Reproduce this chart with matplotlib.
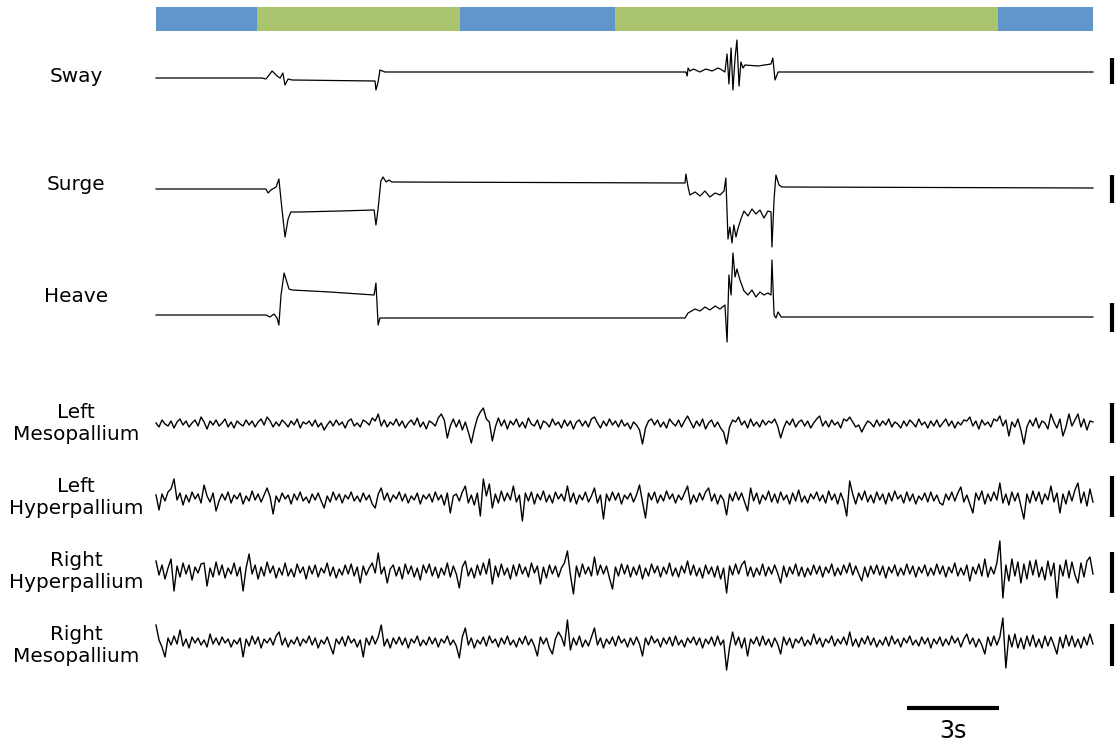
import numpy
from matplotlib import pyplot

# stimulus periods (s): blue = still, green = moving
period_edges = [0.0, 3.29, 9.90, 14.94, 27.41, 30.5]
period_colors = ['#6096c9', '#abc56e', '#6096c9', '#abc56e', '#6096c9']

# platform motion traces: breakpoints (s) and displacement (a.u.)
sway_t = [0.0, 3.45, 3.58, 3.78, 3.94, 4.04, 4.13, 4.20, 4.30, 4.43, 7.13, 7.16,
          7.23, 7.29, 7.45, 17.25, 17.29, 17.32, 17.38, 17.5, 17.7, 17.9, 18.1,
          18.3, 18.42, 18.52, 18.59, 18.65, 18.72, 18.78, 18.85, 18.91, 18.98,
          19.04, 19.11, 19.17, 19.6, 20.02, 20.08, 20.15, 20.25, 30.5]
sway_v = [0, 0, -1, 7, 2, 0, 5, -7, -1, -2, -3, -12,
          -4, 8, 6, 6, 2, 10, 7, 9, 6, 9, 7,
          10, 8, 6, 24, -6, 30, -12, 20, 38, -8,
          16, 10, 13, 12, 14, 20, -2, 6, 6]

surge_t = [0.0, 3.58, 3.65, 3.74, 3.91, 4.00, 4.10, 4.20, 4.30, 4.39, 4.69, 5.99,
           7.10, 7.16, 7.23, 7.32, 7.39, 7.49, 7.58, 7.68, 17.22, 17.25, 17.32,
           17.38, 17.55, 17.71, 17.87, 18.03, 18.20, 18.36, 18.49, 18.55, 18.62,
           18.68, 18.75, 18.81, 18.88, 18.94, 19.04, 19.14, 19.27, 19.40, 19.53,
           19.66, 19.79, 19.92, 20.02, 20.05, 20.12, 20.18, 20.28, 20.38, 30.5]
surge_v = [0, 0, -4, -1, 2, 10, -20, -48, -30, -23, -23, -22,
           -21, -36, -20, 8, 12, 7, 9, 7, 6, 15, 2,
           -6, -3, -7, -2, -8, -4, -6, -2, 11, -50,
           -38, -54, -36, -48, -40, -30, -22, -27, -20, -25,
           -21, -29, -22, -23, -58, -10, 14, 4, 2, 1]

heave_t = [0.0, 3.58, 3.71, 3.84, 3.94, 4.00, 4.07, 4.17, 4.23, 4.33, 4.43, 5.66,
           7.10, 7.16, 7.23, 7.29, 7.42, 17.22, 17.32, 17.55, 17.71, 17.87, 18.03,
           18.20, 18.36, 18.52, 18.59, 18.65, 18.72, 18.78, 18.85, 18.91, 19.01,
           19.14, 19.27, 19.40, 19.53, 19.66, 19.79, 19.92, 20.02, 20.05, 20.12,
           20.18, 20.25, 20.35, 30.5]
heave_v = [0, 0, -2, 1, -3, -10, 20, 42, 36, 26, 25, 23,
           20, 32, -10, -3, -3, -3, 2, 6, 4, 8, 5,
           9, 6, 10, -27, 40, 20, 62, 38, 46, 35,
           24, 20, 25, 18, 23, 20, 22, 20, 55, 0,
           -3, 3, -2, -2]

# EEG traces, 313 samples over 30.5 s (a.u.)
left_meso = [
    1, -3, 4, 0, -2, 3, -4, 2, 5, -1, 3, -3, 1, 4, -2, 7, 2, -5, 3, -1,
    4, -2, 1, 5, -3, 2, -4, 3, 0, -2, 4, -1, 3, -3, 2, 5, -1, 7, 3, -3,
    2, -2, 4, 1, -3, 3, -1, 5, -4, 2, 0, 3, -2, 4, -3, 1, -6, -1, 3, -2,
    4, -1, 2, -4, 3, 5, -2, 1, -3, 4, 2, -1, 6, 3, 10, -2, 4, -3, 2, -1,
    5, -2, 3, -4, 1, 4, -1, 6, -3, 2, -5, 3, 1, -2, 6, 10, 4, -14, -2, 5,
    -3, 4, -6, 2, -8, -19, -5, 6, 12, 16, 5, 2, -17, -3, 6, -2, 4, -5, 3, -1,
    5, -3, 2, -4, 6, 0, -2, 4, -5, 3, 1, -3, 5, -1, 2, -4, 4, -2, 3, -5,
    2, 4, -2, 3, -3, 5, 7, 1, -4, 3, -2, 5, -1, 3, -3, 4, -2, 1, -5, 2,
    -1, -6, -20, -4, 3, 5, -1, 4, -3, 2, -4, 5, 1, -2, 4, -3, 3, 8, 2, -4,
    3, -2, 5, -5, 1, 4, -3, 2, -4, -8, -20, -3, 4, 2, 7, -1, 3, -4, 5, -2,
    2, -3, 4, -1, 3, 1, 5, -2, -14, -4, 3, -1, 5, -3, 2, 4, -2, 3, -4, 1,
    5, 8, -2, 3, -3, 4, -1, 2, -4, 5, 3, 7, 2, -3, -1, -8, -2, 3, 1, -3,
    4, -2, 3, -1, 5, -3, 2, 0, -4, 3, -2, 4, 1, -3, 5, -1, 2, -4, 3, -2,
    4, -3, 1, 5, -2, 3, -4, 2, -1, 4, 3, 7, -2, 3, -5, 4, -1, 2, -3, 5,
    3, 8, -2, 4, -12, 2, -3, 5, -6, -20, -3, 4, -2, 6, -4, 3, 1, -5, 10, 2,
    -4, 5, -12, -3, 10, -2, 4, 10, -3, 5, -6, 3, 2]
left_hyper = [
    3, -12, 4, -3, 6, 9, 19, -2, 5, -7, 3, -4, 6, -1, 4, -5, 13, 2, -4, 5,
    -13, -3, 4, -2, 6, -5, 3, -1, 5, -6, 2, -3, 7, -2, 4, -4, 3, 10, 1, -16,
    2, -4, 5, -1, 3, -6, 4, -2, 6, -3, 1, -5, 4, -2, 5, -3, -10, 2, -4, 6,
    -2, 4, -5, 3, -1, 6, -3, 2, -4, 5, -2, 3, -6, -10, 4, 10, -2, 5, -4, 3,
    -1, 6, -3, 4, -5, 2, -2, 5, -6, 3, -1, 4, -4, 6, -2, 3, -7, 5, -15, 2,
    4, -3, 6, 12, -5, 3, -7, 5, -18, 19, 2, 14, -10, 4, -5, 7, -3, 5, -2, 12,
    -4, 3, -23, 5, -3, 6, -6, 4, -2, 7, -4, 3, -5, 6, -1, 4, -3, 12, -4, 5,
    -6, 3, -2, 6, -4, 2, 10, -5, 3, -21, 4, -3, 6, -2, 5, -6, 3, -1, 5, -4,
    3, 13, -4, -20, 5, -2, 6, -5, 3, -3, 7, -1, 4, -5, 3, -2, 5, 12, -6, 3,
    -4, 5, -2, 6, 10, -3, 4, -6, 3, -2, -17, 4, -3, 6, -2, 5, -4, -13, 10, -3,
    5, -6, 3, -2, 7, -4, 4, -5, 6, -2, 3, -6, 5, -3, 8, -4, 2, -5, 4, -1,
    6, -3, 3, -5, 7, -2, 4, -6, 5, -3, -18, 17, 4, -6, 5, -2, 7, -4, 3, -5,
    6, -2, 4, -6, 5, -3, 7, -1, 3, -5, 6, -3, 4, -6, 2, -2, 5, -4, 6, -3,
    3, -5, -7, 4, -2, 6, -3, 5, 11, -4, 3, -6, -15, 5, -2, 7, -6, 4, -3, 6,
    -2, 15, -5, 4, -7, 6, -3, 5, -8, -21, 4, -5, 7, -3, 6, -6, 4, -2, 12, -4,
    5, -15, 4, -6, 7, -3, 8, 15, -5, 6, -8, 9, -4]
right_hyper = [
    10, -4, 6, -8, 3, 12, -20, 5, -6, 8, -3, 6, -9, 4, -2, 7, 8, -15, 3, -6,
    9, -4, 6, -7, 3, -3, 8, -5, 4, -20, 3, 17, -3, 6, -8, 4, -5, 9, -2, 5,
    -7, 3, -4, 8, -5, 2, -6, 7, -2, 4, -8, 5, -3, 6, -6, 3, -2, 8, -5, 4,
    -7, 2, -4, 6, -3, 7, -5, 4, -12, 5, -4, 3, 8, -2, 18, -3, 4, -12, 2, 6,
    -5, 4, -8, 7, -3, 5, -6, 3, -9, 6, -2, 7, -5, 4, -7, 3, -4, 8, -6, 5,
    -3, -17, 4, 10, -5, 3, -7, 6, -4, 8, -3, 12, -13, 5, -6, 7, -4, 3, -8, 6,
    -5, 7, -3, 4, -6, 8, -2, 5, -13, 4, -7, 6, -3, 5, -6, 3, 8, 20, -4, -23,
    5, -6, 7, -3, 4, -5, 14, -4, 6, -3, 5, -7, -18, 4, -5, 7, -3, 6, -6, 4,
    -4, 6, -8, 3, -5, 7, -2, 5, -6, 4, -3, 8, -5, 3, -6, 5, -2, 10, -4, 6,
    -5, 3, -7, 6, -3, 4, -6, 5, -8, 3, -22, 5, -4, 7, -3, 6, 10, -5, 4, -6,
    3, -4, 7, -5, 4, -3, 6, -2, -12, 5, -6, 4, -3, 7, -5, 4, -6, 3, -4, 6,
    -3, 5, -6, 4, -2, 7, -5, 3, -4, 6, -2, 8, -4, 5, -3, -10, 4, -6, 5, -3,
    6, -4, 5, -7, 4, -2, 6, -5, 3, -4, 7, -3, 5, -6, 4, -2, 6, -5, 3, -4,
    7, -3, 5, -6, 4, -2, 8, -5, 3, -4, 6, -10, 4, -3, 7, -5, 12, -6, 4, -3,
    8, 30, -27, 6, -10, 12, -5, 9, -12, 7, -8, 10, -4, 11, -6, 4, -9, 10, -5, 8,
    -27, 6, -5, 11, -7, 9, -4, -12, 8, -6, 10, 14, -3]
right_meso = [
    17, 2, -5, -15, 4, -3, 6, -2, 12, -4, 3, -6, 5, -1, 4, -3, 2, -5, 8, -2,
    4, -3, 5, -1, 3, -5, 2, -2, 4, -15, 3, -4, 6, -2, 5, -6, 3, -1, 4, -3,
    6, 10, -3, 4, -5, 2, -2, 5, -4, 3, -1, 6, -3, 4, -6, 2, -2, 5, -4, -12,
    3, -2, 5, -4, 6, -1, 3, -5, 2, -15, 4, -3, 6, -2, 5, 17, -4, 3, -6, 4,
    -2, 5, -3, 4, -6, 3, -1, 6, -4, 2, -3, 5, -2, 4, -5, 3, -1, 6, -3, 2,
    -4, -16, 5, 14, -3, 4, -6, 2, -2, 5, -4, 6, -1, 3, -5, 4, -2, 6, -3, 2,
    -5, 4, -2, 6, -3, 3, -4, -14, 5, -2, 4, -6, -12, 3, 10, 5, -4, 22, -8, 4,
    -3, 6, -5, 2, -4, 5, 14, -3, 4, -6, 3, -2, 5, -4, 6, -1, 3, -5, 4, -3,
    5, -2, -14, 4, -3, 6, -1, 3, -5, 4, -2, 5, -4, 6, -3, 2, -5, 4, -1, 5,
    -3, 4, -6, 3, -2, 5, -4, 6, -3, 2, -28, -5, 10, -3, 5, -6, 4, -14, 3, -2,
    5, -4, 6, -3, 3, -5, 4, -2, -12, 5, -3, 4, -6, 3, -1, 5, -4, 2, -3, 8,
    -2, 4, -5, 3, -1, 6, -4, 3, -2, 5, -3, 10, -4, 3, -5, 4, -2, 6, -3, 4,
    -5, 2, -3, 5, -4, 6, -2, 3, -5, 4, -1, 6, -3, 2, -4, 5, -2, 4, -6, 3,
    -2, 5, -4, 3, -3, 6, -1, 4, -5, 3, 8, -2, 4, -5, 3, -3, -12, 5, -4, 6,
    -3, 5, 24, -26, 7, -5, 8, -6, 4, -7, 6, -4, 7, -5, 3, -6, 6, -4, 5, -3,
    -12, 5, -6, 7, -4, 6, -5, 3, -6, 5, -3, 8, -2]

labels = ['Sway', 'Surge', 'Heave', 'Left\nMesopallium', 'Left\nHyperpallium',
          'Right\nHyperpallium', 'Right\nMesopallium']


if __name__ == '__main__':
    px_per_s = 30.72
    fig = pyplot.figure(figsize=(11.19, 7.44), dpi=100)
    ax = fig.add_axes([0, 0, 1, 1])
    ax.set_xlim(-156 / px_per_s, (1119 - 156) / px_per_s)
    ax.set_ylim(744, 0)
    ax.axis('off')

    # stimulus bar
    for i, c in enumerate(period_colors):
        ax.broken_barh([(period_edges[i], period_edges[i + 1] - period_edges[i])],
                       (7, 24), facecolors=c)

    t_eeg = numpy.linspace(0, 30.5, len(left_meso))
    traces = [(sway_t, sway_v), (surge_t, surge_v), (heave_t, heave_v),
              (t_eeg, left_meso), (t_eeg, left_hyper),
              (t_eeg, right_hyper), (t_eeg, right_meso)]
    baselines = [78, 189, 315, 424, 498, 571, 642]
    label_y = [76, 185, 297, 423, 497, 571, 645]
    bars = [(58, 84), (175, 203), (303, 332), (403, 443), (476, 517),
            (552, 593), (624, 666)]

    for k, ((t, v), y0, ly, lab, (b0, b1)) in enumerate(
            zip(traces, baselines, label_y, labels, bars)):
        ax.plot(t, y0 - numpy.array(v), color='black', lw=0.9 if k < 3 else 1.0)
        ax.text(-2.6, ly, lab, ha='center', va='center', fontsize=14.4,
                linespacing=1.2)
        ax.plot([31.12, 31.12], [b0, b1], color='black', lw=3,
                solid_capstyle='butt')

    # time scale bar
    ax.plot([24.45, 27.45], [708, 708], color='black', lw=3,
            solid_capstyle='butt')
    ax.text(25.95, 731, '3s', ha='center', va='center', fontsize=17)

    fig.savefig('out.png', dpi=100)
